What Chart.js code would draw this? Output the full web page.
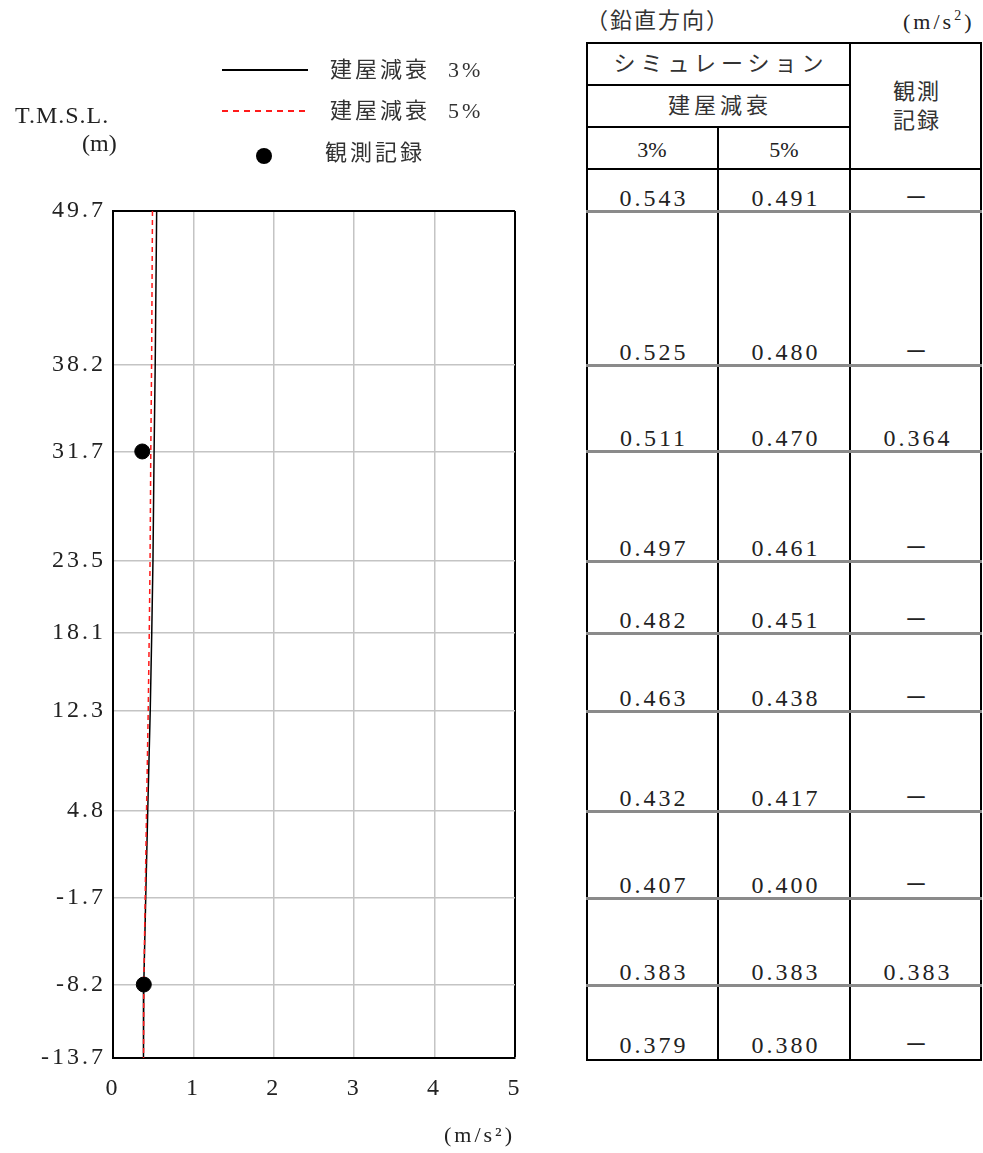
<!DOCTYPE html>
<html><head><meta charset="utf-8">
<script src="https://cdn.jsdelivr.net/npm/chart.js@4/dist/chart.umd.min.js"></script>
<style>
html,body{margin:0;padding:0;background:#fff;}
body{width:983px;height:1153px;position:relative;overflow:hidden;color:#222;
 font-family:"Liberation Serif","Noto Sans CJK JP",serif;}
#c{position:absolute;left:0;top:0;}
.t{position:absolute;white-space:nowrap;font-size:24px;line-height:26px;}
.jp{font-family:"Liberation Serif","Noto Sans CJK JP",serif;font-size:22px;font-weight:400;color:#333;}
.num{letter-spacing:3px;}
.hl{position:absolute;background:#000;}
.sep{position:absolute;height:3px;background:#8a8a8a;}
.sup{font-size:14px;position:relative;top:-9px;}
</style></head>
<body>
<canvas id="c" width="560" height="1153"></canvas>
<div id="legend"></div>
<div id="table"></div>
<script>
// ---- data ----
const levels   = [49.7, 38.2, 31.7, 23.5, 18.1, 12.3, 4.8, -1.7, -8.2, -13.7];
const sim3     = [0.543, 0.525, 0.511, 0.497, 0.482, 0.463, 0.432, 0.407, 0.383, 0.379];
const sim5     = [0.491, 0.480, 0.470, 0.461, 0.451, 0.438, 0.417, 0.400, 0.383, 0.380];
const observed = [null, null, 0.364, null, null, null, null, null, 0.383, null];
const xTicks   = [0, 1, 2, 3, 4, 5];
const seriesLabels = ['建屋減衰 3%', '建屋減衰 5%', '観測記録'];
const tableHead = {top:'シミュレーション', mid:'建屋減衰', cols:['3%','5%'], obs:['観測','記録']};

const pts = arr => levels.map((y,i)=>arr[i]==null?null:{x:arr[i],y}).filter(p=>p);

const spacing = {id:'spacing',
  beforeUpdate(c){c.ctx.letterSpacing='3px';},
  beforeDraw(c){c.ctx.letterSpacing='3px';}};

const FONT = {family:'"Liberation Serif","Noto Sans CJK JP",serif', size:24};

const chart = new Chart(document.getElementById('c'), {
  type:'scatter',
  data:{datasets:[
    {label:seriesLabels[0], data:pts(sim3), showLine:true, borderColor:'#000', backgroundColor:'#000',
     borderWidth:1.5, pointRadius:0, order:2},
    {label:seriesLabels[1], data:pts(sim5), showLine:true, borderColor:'#ff1a1a', backgroundColor:'#ff1a1a',
     borderWidth:1.5, borderDash:[5,4], pointRadius:0, order:1},
    {label:seriesLabels[2], data:pts(observed), showLine:false, borderColor:'#000', backgroundColor:'#000',
     pointRadius:7.5, pointHoverRadius:7.5, order:0}
  ]},
  options:{
    responsive:false, animation:false, devicePixelRatio:1,
    layout:{padding:{top:211,right:45,bottom:0,left:0}},
    plugins:{legend:{display:false}, tooltip:{enabled:false}},
    scales:{
      x:{type:'linear', min:0, max:5, position:'bottom',
        afterBuildTicks:s=>{s.ticks=xTicks.map(v=>({value:v}));},
        afterFit:s=>{s.height=95;},
        grid:{color:c=>c.tick&&c.tick.value===5?'#000':'#c4c4c4', lineWidth:c=>c.tick&&c.tick.value===5?2:1.5, drawTicks:false},
        border:{color:'#000', width:2},
        ticks:{font:FONT, color:'#222', padding:16, maxRotation:0, autoSkip:false},
        title:{display:true, text:'(m/s²)', align:'end', font:{family:FONT.family,size:22}, color:'#222', padding:{top:0,bottom:4}}
      },
      y:{type:'linear', min:-13.7, max:49.7,
        afterBuildTicks:s=>{s.ticks=levels.map(v=>({value:v}));},
        afterFit:s=>{s.width=113;},
        grid:{color:c=>c.tick&&c.tick.value===49.7?'#000':'#c4c4c4', lineWidth:c=>c.tick&&c.tick.value===49.7?2:1.5, drawTicks:false},
        border:{color:'#000', width:2},
        ticks:{font:FONT, color:'#222', padding:7, autoSkip:false, callback:v=>v.toFixed(1)}
      }
    }
  },
  plugins:[spacing]
});

// ---- legend (HTML, from datasets) ----
const lg = document.getElementById('legend');
const ds = chart.data.datasets;
const lab = s => s.replace(' ', '<span style="display:inline-block;width:18px"></span>');
let h = '';
h += `<div class="hl" style="left:222px;top:69px;width:86px;height:2px;background:${ds[0].borderColor}"></div>`;
h += `<svg style="position:absolute;left:222px;top:109px" width="86" height="4"><line x1="0" y1="2" x2="86" y2="2" stroke="${ds[1].borderColor}" stroke-width="2" stroke-dasharray="6,5"/></svg>`;
h += `<div style="position:absolute;left:256px;top:148px;width:16px;height:16px;border-radius:50%;background:#000"></div>`;
h += `<div class="t jp" style="left:330px;top:57px;letter-spacing:3px">${lab(ds[0].label)}</div>`;
h += `<div class="t jp" style="left:330px;top:98px;letter-spacing:3px">${lab(ds[1].label)}</div>`;
h += `<div class="t jp" style="left:325px;top:140px;letter-spacing:3px">${ds[2].label}</div>`;
h += `<div class="t" style="left:15px;top:102px;letter-spacing:1px">T.M.S.L.</div>`;
h += `<div class="t" style="left:82px;top:130px">(m)</div>`;
lg.innerHTML = h;

// ---- table ----
const ys = chart.scales.y;
const tb = document.getElementById('table');
const L=586, R=982, C1=718, C2=850, T=42, H1=85, H2=127, H3=169;
const bottom = ys.getPixelForValue(levels[levels.length-1]) + 3;
let t = '';
t += `<div class="t jp" style="left:586px;top:8px;letter-spacing:2px">（鉛直方向）</div>`;
t += `<div class="t" style="left:903px;top:9px;font-size:22px;letter-spacing:3px">(m/s<span class="sup">2</span>)</div>`;
// outer frame
t += `<div style="position:absolute;left:${L}px;top:${T}px;width:${R-L}px;height:${bottom-T}px;border:2px solid #000;box-sizing:border-box"></div>`;
t += `<div class="hl" style="left:${L}px;top:${H1-1}px;width:${C2-L}px;height:2px"></div>`;
t += `<div class="hl" style="left:${L}px;top:${H2-1}px;width:${C2-L}px;height:2px"></div>`;
t += `<div class="hl" style="left:${L}px;top:${H3-1}px;width:${R-L}px;height:2px"></div>`;
t += `<div class="hl" style="left:${C2-1}px;top:${T}px;width:2px;height:${bottom-T}px"></div>`;
t += `<div class="hl" style="left:${C1-1}px;top:${H2}px;width:2px;height:${bottom-H2}px"></div>`;
t += `<div class="t jp" style="left:${L+3}px;width:${C2-L}px;text-align:center;top:51px;letter-spacing:5px">${tableHead.top}</div>`;
t += `<div class="t jp" style="left:${L+2}px;width:${C2-L}px;text-align:center;top:93px;letter-spacing:4px">${tableHead.mid}</div>`;
t += `<div class="t" style="left:${L}px;width:${C1-L}px;text-align:center;top:137px;font-size:22px">${tableHead.cols[0]}</div>`;
t += `<div class="t" style="left:${C1}px;width:${C2-C1}px;text-align:center;top:137px;font-size:22px">${tableHead.cols[1]}</div>`;
t += `<div class="t jp" style="left:${C2+1}px;width:${R-C2}px;text-align:center;top:79px;letter-spacing:2px">${tableHead.obs[0]}</div>`;
t += `<div class="t jp" style="left:${C2+1}px;width:${R-C2}px;text-align:center;top:108px;letter-spacing:2px">${tableHead.obs[1]}</div>`;
levels.forEach((lv,i)=>{
  const yb = Math.round(ys.getPixelForValue(lv));
  const last = i===levels.length-1;
  if(!last) t += `<div class="sep" style="left:${L}px;top:${yb-1}px;width:${R-L}px"></div>`;
  const ty = yb - 26;
  t += `<div class="t num" style="left:${L+2}px;width:${C1-L}px;text-align:center;top:${ty}px">${sim3[i].toFixed(3)}</div>`;
  t += `<div class="t num" style="left:${C1+2}px;width:${C2-C1}px;text-align:center;top:${ty}px">${sim5[i].toFixed(3)}</div>`;
  t += observed[i]==null
    ? `<div class="t" style="left:${C2}px;width:${R-C2}px;text-align:center;top:${ty}px">－</div>`
    : `<div class="t num" style="left:${C2+2}px;width:${R-C2}px;text-align:center;top:${ty}px">${observed[i].toFixed(3)}</div>`;
});
tb.innerHTML = t;
</script>
</body></html>
